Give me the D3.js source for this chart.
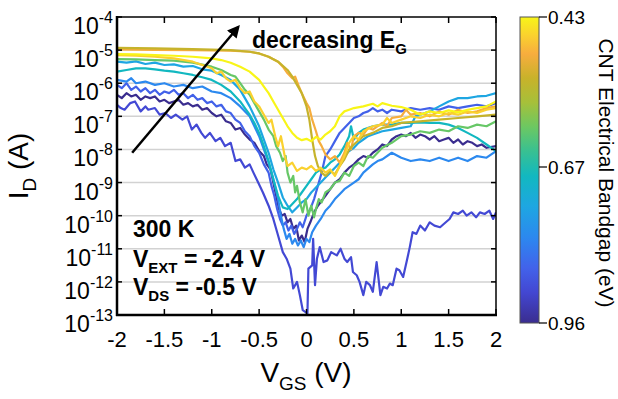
<!DOCTYPE html>
<html>
<head>
<meta charset="utf-8">
<script src="https://cdn.jsdelivr.net/npm/d3@7"></script>
<style>
  body { margin: 0; background: #fff; }
  svg { font-family: "Liberation Sans", Arial, Helvetica, sans-serif; }
</style>
</head>
<body>
<svg id="chart" width="618" height="399"></svg>
<script>
// ---- data (V_GS in volts, log10 of I_D in amps) ----
const xTicks = [-2, -1.5, -1, -0.5, 0, 0.5, 1, 1.5, 2];
const yExponents = [-4, -5, -6, -7, -8, -9, -10, -11, -12, -13];
const barTicks = [0.43, 0.67, 0.96];

// colour map stops (bandgap eV -> colour)
const gapStops = [0.43, 0.459, 0.489, 0.528, 0.567, 0.606, 0.645, 0.687, 0.744, 0.801, 0.858, 0.903, 0.96];
const gapColors = ['#f8f518', '#fad22e', '#f7ad3e', '#c8b22a', '#a6c03a', '#6cc862', '#38c092', '#12b8c0',
                   '#1ea6e2', '#2c88ef', '#4262ea', '#4347d2', '#3a2d8f'];

const yellowPts = [[-2,-5.12],[-1.8,-5.13],[-1.6,-5.15],[-1.4,-5.17],[-1.2,-5.2],[-1.0,-5.25],[-0.9,-5.3],[-0.8,-5.38],[-0.7,-5.5],[-0.6,-5.65],[-0.5,-5.9],[-0.45,-6.1],[-0.4,-6.3],[-0.35,-6.55],[-0.3,-6.8],[-0.25,-7.05],[-0.2,-7.3],[-0.15,-7.5],[-0.1,-7.65],[-0.05,-7.72],[0,-7.68],[0.05,-7.75],[0.1,-7.62],[0.15,-7.7],[0.2,-7.55],[0.25,-7.45],[0.3,-7.3],[0.35,-7.0],[0.4,-6.85],[0.45,-6.8],[0.5,-6.75],[0.6,-6.7],[0.7,-6.62],[0.75,-6.7],[0.8,-6.6],[0.9,-6.68],[1.0,-6.72],[1.1,-6.8],[1.2,-6.95],[1.3,-6.85],[1.4,-6.9],[1.5,-6.82],[1.6,-6.88],[1.7,-6.8],[1.8,-6.75],[1.9,-6.7],[2.0,-6.55]];
const goldPts = [[-2,-5.15],[-1.8,-5.17],[-1.6,-5.2],[-1.4,-5.25],[-1.2,-5.35],[-1.1,-5.45],[-1.0,-5.55],[-0.95,-5.7],[-0.9,-5.65],[-0.85,-5.85],[-0.8,-5.95],[-0.75,-5.9],[-0.7,-6.15],[-0.65,-6.3],[-0.6,-6.25],[-0.55,-6.55],[-0.5,-6.7],[-0.45,-6.95],[-0.4,-7.2],[-0.37,-7.1],[-0.33,-7.6],[-0.3,-7.9],[-0.27,-7.6],[-0.23,-8.2],[-0.2,-8.5],[-0.15,-8.4],[-0.1,-8.65],[-0.05,-8.55],[0,-8.6],[0.05,-8.5],[0.1,-8.65],[0.15,-8.55],[0.2,-8.7],[0.25,-8.6],[0.3,-8.8],[0.35,-8.5],[0.4,-8.2],[0.45,-7.8],[0.5,-7.6],[0.55,-7.7],[0.6,-7.45],[0.7,-7.3],[0.8,-7.25],[0.85,-7.05],[0.9,-7.2],[1.0,-7.1],[1.1,-7.0],[1.2,-7.05],[1.3,-6.95],[1.4,-7.0],[1.5,-6.9],[1.6,-6.95],[1.7,-6.85],[1.8,-6.9],[1.9,-6.8],[2.0,-6.75]];
const orangePts = [[-2,-4.98],[-1.6,-4.99],[-1.2,-5.0],[-0.8,-5.02],[-0.6,-5.05],[-0.5,-5.1],[-0.4,-5.2],[-0.3,-5.35],[-0.25,-5.5],[-0.2,-5.7],[-0.15,-5.85],[-0.12,-5.8],[-0.08,-6.1],[-0.05,-6.3],[0,-6.6],[0.03,-6.75],[0.06,-7.1],[0.1,-7.45],[0.13,-7.75],[0.16,-7.9],[0.2,-8.15],[0.25,-8.3],[0.3,-8.2],[0.35,-8.4],[0.4,-8.1],[0.43,-7.8],[0.47,-8.0],[0.5,-7.6],[0.55,-7.5],[0.6,-7.55],[0.65,-7.35],[0.7,-7.4],[0.8,-7.2],[0.85,-7.3],[0.9,-7.05],[1.0,-7.0],[1.05,-6.8],[1.1,-6.95],[1.2,-6.9],[1.3,-7.0],[1.4,-6.85],[1.5,-6.95],[1.6,-6.8],[1.7,-6.9],[1.8,-6.85],[1.9,-6.75],[2.0,-6.7]];
const olivePts = [[-2,-4.93],[-1.6,-4.95],[-1.2,-4.97],[-0.8,-5.0],[-0.6,-5.05],[-0.5,-5.1],[-0.4,-5.2],[-0.3,-5.35],[-0.2,-5.6],[-0.15,-5.8],[-0.1,-6.05],[-0.05,-6.3],[0,-6.7],[0.03,-7.1],[0.06,-7.7],[0.09,-8.2],[0.12,-8.5],[0.16,-8.7],[0.2,-8.8],[0.25,-8.65],[0.3,-8.75],[0.35,-8.5],[0.4,-8.3],[0.45,-8.0],[0.5,-7.85],[0.6,-7.6],[0.7,-7.5],[0.8,-7.35],[0.9,-7.3],[1.0,-7.2],[1.2,-7.15],[1.4,-7.1],[1.6,-7.05],[1.8,-7.0],[2.0,-6.95]];
const greenPts = [[-2,-5.27],[-1.8,-5.28],[-1.6,-5.3],[-1.4,-5.32],[-1.2,-5.38],[-1.0,-5.5],[-0.9,-5.6],[-0.8,-5.75],[-0.75,-5.8],[-0.7,-6.0],[-0.65,-6.2],[-0.6,-6.35],[-0.55,-6.6],[-0.5,-6.85],[-0.45,-7.1],[-0.4,-7.4],[-0.35,-7.6],[-0.32,-7.9],[-0.28,-8.1],[-0.25,-8.35],[-0.22,-8.2],[-0.2,-8.7],[-0.17,-9.0],[-0.14,-8.8],[-0.12,-9.3],[-0.1,-9.1],[-0.07,-9.6],[-0.04,-9.9],[-0.01,-9.5],[0.02,-10.0],[0.05,-9.7],[0.08,-10.05],[0.1,-9.8],[0.13,-9.5],[0.16,-9.6],[0.2,-9.3],[0.25,-9.2],[0.3,-9.0],[0.35,-8.95],[0.4,-8.7],[0.45,-8.8],[0.5,-8.5],[0.55,-8.4],[0.6,-8.5],[0.65,-8.2],[0.7,-8.25],[0.8,-7.95],[0.9,-7.8],[1.0,-7.6],[1.1,-7.55],[1.2,-7.45],[1.3,-7.5],[1.4,-7.4],[1.5,-7.45],[1.6,-7.3],[1.7,-7.35],[1.8,-7.25],[1.9,-7.3],[2.0,-7.15]];
const tealPts = [[-2,-5.65],[-1.9,-5.6],[-1.8,-5.55],[-1.7,-5.55],[-1.6,-5.58],[-1.5,-5.62],[-1.4,-5.65],[-1.3,-5.7],[-1.2,-5.75],[-1.1,-5.82],[-1.0,-5.9],[-0.9,-6.05],[-0.8,-6.25],[-0.7,-6.55],[-0.65,-6.75],[-0.6,-6.95],[-0.55,-7.2],[-0.5,-7.5],[-0.45,-7.9],[-0.4,-8.35],[-0.35,-8.9],[-0.3,-9.4],[-0.25,-9.75],[-0.2,-9.8],[-0.15,-9.65],[-0.1,-9.5],[-0.05,-9.3],[0,-9.1],[0.05,-8.9],[0.1,-8.7],[0.15,-8.6],[0.2,-8.55],[0.25,-8.4],[0.3,-8.3],[0.35,-8.15],[0.4,-7.9],[0.45,-7.6],[0.47,-7.3],[0.5,-7.7],[0.55,-7.5],[0.6,-7.4],[0.7,-7.3],[0.8,-7.25],[0.9,-7.25],[1.0,-7.2],[1.1,-7.2],[1.2,-7.18],[1.3,-7.2],[1.4,-7.2],[1.5,-7.25],[1.6,-7.35],[1.7,-7.5],[1.8,-7.65],[1.9,-7.85],[2.0,-8.05]];
const skyPts = [[-2,-5.35],[-1.9,-5.38],[-1.8,-5.34],[-1.7,-5.42],[-1.6,-5.38],[-1.5,-5.45],[-1.4,-5.43],[-1.3,-5.5],[-1.2,-5.48],[-1.1,-5.58],[-1.0,-5.62],[-0.9,-5.75],[-0.8,-5.9],[-0.75,-6.05],[-0.7,-6.2],[-0.65,-6.45],[-0.6,-6.7],[-0.55,-7.0],[-0.5,-7.3],[-0.45,-7.7],[-0.4,-8.1],[-0.35,-8.6],[-0.3,-9.0],[-0.25,-9.45],[-0.2,-9.7],[-0.15,-9.9],[-0.1,-9.75],[-0.05,-9.6],[0,-9.5],[0.05,-9.3],[0.1,-9.15],[0.15,-9.0],[0.2,-8.85],[0.25,-8.7],[0.3,-8.55],[0.35,-8.4],[0.4,-8.2],[0.45,-8.05],[0.5,-7.95],[0.55,-7.8],[0.6,-7.7],[0.65,-7.6],[0.7,-7.55],[0.8,-7.45],[0.9,-7.4],[1.0,-7.35],[1.1,-7.3],[1.15,-7.0],[1.2,-6.95],[1.3,-6.85],[1.4,-6.7],[1.5,-6.55],[1.6,-6.45],[1.7,-6.45],[1.8,-6.4],[1.9,-6.38],[2.0,-6.3]];
const bluePts = [[-2,-5.9],[-1.9,-5.95],[-1.85,-5.85],[-1.8,-6.0],[-1.7,-5.95],[-1.6,-6.05],[-1.5,-6.0],[-1.4,-6.1],[-1.3,-6.05],[-1.2,-6.15],[-1.1,-6.1],[-1.0,-6.25],[-0.9,-6.3],[-0.8,-6.45],[-0.7,-6.7],[-0.6,-7.0],[-0.55,-7.3],[-0.5,-7.6],[-0.45,-8.0],[-0.4,-8.4],[-0.35,-8.9],[-0.3,-9.5],[-0.27,-10.0],[-0.24,-10.4],[-0.21,-10.7],[-0.18,-10.55],[-0.15,-10.85],[-0.12,-10.7],[-0.09,-10.9],[-0.06,-10.75],[-0.03,-10.95],[0,-10.7],[0.03,-10.8],[0.06,-10.5],[0.1,-10.3],[0.15,-10.1],[0.2,-9.85],[0.25,-9.7],[0.3,-9.5],[0.35,-9.35],[0.4,-9.2],[0.45,-9.1],[0.5,-9.0],[0.55,-8.9],[0.6,-8.7],[0.7,-8.45],[0.75,-8.35],[0.8,-8.3],[0.9,-8.1],[1.0,-8.25],[1.1,-8.35],[1.2,-8.3],[1.3,-8.35],[1.4,-8.25],[1.5,-8.35],[1.6,-8.25],[1.7,-8.35],[1.8,-8.2],[1.9,-8.25],[2.0,-8.05]];
const violetPts = [[-2,-6.05],[-1.95,-6.15],[-1.9,-6.0],[-1.85,-6.2],[-1.8,-6.1],[-1.75,-6.25],[-1.7,-6.15],[-1.65,-6.3],[-1.6,-6.2],[-1.55,-6.35],[-1.5,-6.25],[-1.45,-6.3],[-1.4,-6.2],[-1.35,-6.35],[-1.3,-6.3],[-1.25,-6.45],[-1.2,-6.35],[-1.15,-6.5],[-1.1,-6.45],[-1.05,-6.6],[-1.0,-6.55],[-0.95,-6.7],[-0.9,-6.65],[-0.85,-6.85],[-0.8,-6.9],[-0.75,-7.1],[-0.7,-7.2],[-0.65,-7.45],[-0.6,-7.6],[-0.55,-7.9],[-0.5,-8.1],[-0.45,-8.45],[-0.4,-8.7],[-0.37,-9.1],[-0.34,-9.4],[-0.31,-9.8],[-0.28,-10.1],[-0.25,-10.3],[-0.22,-10.2],[-0.19,-10.45],[-0.16,-10.3],[-0.13,-10.55],[-0.1,-10.4],[-0.07,-10.2],[-0.04,-10.35],[0,-10.0],[0.04,-9.8],[0.08,-9.5],[0.12,-9.1],[0.16,-8.7],[0.2,-8.2],[0.25,-8.0],[0.3,-7.75],[0.35,-7.5],[0.4,-7.35],[0.45,-7.2],[0.5,-7.05],[0.55,-7.0],[0.6,-6.9],[0.65,-6.85],[0.7,-6.75],[0.75,-6.85],[0.8,-6.8],[0.85,-6.9],[0.9,-6.8],[1.0,-6.85],[1.1,-6.75],[1.2,-6.8],[1.3,-6.75],[1.4,-6.8],[1.5,-6.7],[1.6,-6.75],[1.7,-6.7],[1.8,-6.65],[1.9,-6.7],[2.0,-6.6]];
const lowPts = [[-2,-6.65],[-1.96,-6.75],[-1.92,-6.8],[-1.86,-6.6],[-1.81,-6.55],[-1.75,-6.85],[-1.7,-6.7],[-1.67,-6.8],[-1.6,-6.75],[-1.55,-6.95],[-1.49,-6.9],[-1.43,-7.05],[-1.38,-6.95],[-1.31,-7.1],[-1.26,-7.0],[-1.21,-7.4],[-1.16,-7.25],[-1.11,-7.5],[-1.07,-7.65],[-1.02,-7.5],[-0.96,-7.75],[-0.91,-7.65],[-0.86,-7.9],[-0.8,-7.8],[-0.75,-8.35],[-0.7,-8.3],[-0.65,-8.55],[-0.6,-8.45],[-0.56,-8.7],[-0.51,-9.0],[-0.46,-9.3],[-0.4,-9.7],[-0.35,-10.1],[-0.3,-10.6],[-0.25,-11.1],[-0.21,-11.3],[-0.17,-11.6],[-0.14,-12.2],[-0.1,-12.0],[-0.07,-12.4],[-0.04,-12.85],[0.01,-12.95],[0.02,-11.6],[0.06,-11.5],[0.07,-10.7],[0.09,-12.1],[0.11,-11.3],[0.14,-10.95],[0.18,-11.4],[0.22,-11.35],[0.26,-11.1],[0.32,-11.2],[0.36,-11.0],[0.4,-11.3],[0.43,-11.4],[0.47,-11.25],[0.49,-11.7],[0.53,-11.8],[0.56,-12.0],[0.6,-12.4],[0.63,-12.0],[0.67,-12.1],[0.7,-12.3],[0.74,-11.4],[0.78,-12.4],[0.81,-12.15],[0.85,-12.2],[0.88,-12.05],[0.91,-12.1],[0.95,-11.6],[0.98,-11.65],[1.02,-11.85],[1.06,-11.35],[1.09,-10.95],[1.12,-10.5],[1.16,-10.55],[1.2,-10.3],[1.25,-10.45],[1.3,-10.2],[1.35,-10.3],[1.41,-10.35],[1.47,-10.2],[1.51,-10.1],[1.55,-9.9],[1.6,-9.95],[1.65,-9.85],[1.69,-10.0],[1.74,-9.9],[1.79,-10.05],[1.83,-9.9],[1.88,-9.95],[1.93,-9.85],[1.97,-10.1],[2.0,-9.9]];
const indigoPts = [[-2,-6.35],[-1.95,-6.45],[-1.9,-6.3],[-1.85,-6.4],[-1.8,-6.35],[-1.75,-6.5],[-1.7,-6.4],[-1.65,-6.45],[-1.6,-6.4],[-1.55,-6.55],[-1.5,-6.5],[-1.45,-6.6],[-1.4,-6.55],[-1.35,-6.5],[-1.3,-6.65],[-1.25,-6.6],[-1.2,-6.7],[-1.15,-6.65],[-1.1,-6.8],[-1.05,-6.75],[-1.0,-6.9],[-0.95,-7.0],[-0.9,-6.95],[-0.85,-7.15],[-0.8,-7.2],[-0.75,-7.4],[-0.7,-7.35],[-0.65,-7.55],[-0.6,-7.7],[-0.55,-7.8],[-0.5,-8.05],[-0.45,-8.2],[-0.42,-8.45],[-0.38,-8.6],[-0.35,-9.0],[-0.32,-9.4],[-0.29,-9.8],[-0.26,-10.0],[-0.23,-9.95],[-0.2,-10.2],[-0.17,-10.1],[-0.14,-10.4],[-0.11,-10.3],[-0.08,-10.75],[-0.05,-10.6],[-0.02,-10.8],[0.01,-10.4],[0.04,-10.2],[0.08,-9.9],[0.12,-9.7],[0.16,-9.55],[0.2,-9.4],[0.25,-9.2],[0.3,-9.0],[0.35,-8.9],[0.4,-8.7],[0.45,-8.55],[0.5,-8.45],[0.55,-8.3],[0.6,-8.2],[0.65,-8.25],[0.7,-8.1],[0.75,-8.0],[0.8,-7.85],[0.85,-7.9],[0.9,-7.7],[0.95,-7.6],[1.0,-7.55],[1.05,-7.6],[1.1,-7.5],[1.15,-7.65],[1.2,-7.55],[1.25,-7.6],[1.3,-7.7],[1.35,-7.6],[1.4,-7.75],[1.45,-7.7],[1.5,-7.65],[1.55,-7.8],[1.6,-7.7],[1.65,-7.85],[1.7,-7.75],[1.75,-7.8],[1.8,-7.9],[1.85,-7.85],[1.9,-7.95],[2.0,-7.9]];

// bandgap of each device, drawn back to front
const curveGaps = [0.96, 0.90, 0.86, 0.80, 0.744, 0.687, 0.61, 0.49, 0.53, 0.46, 0.43];
const curvePts = [indigoPts, lowPts, violetPts, bluePts, skyPts, tealPts, greenPts, orangePts, olivePts, goldPts, yellowPts];

// arrow annotation, in data units [V, log10 I]
const arrowFrom = [-1.84, -8.1];
const arrowTo = [-0.72, -4.3];

// ---- layout ----
const svg = d3.select('#chart');
const plot = { left: 117, right: 496, top: 17, bottom: 315 };
const bar = { x: 520, w: 19, top: 17, bottom: 323 };

const x = d3.scaleLinear().domain([-2, 2]).range([plot.left, plot.right]);
const y = d3.scaleLog().domain([1e-13, 1e-4]).range([plot.bottom, plot.top]);
const color = d3.scaleLinear().domain(gapStops).range(gapColors).interpolate(d3.interpolateRgb);
const barY = d3.scaleLinear().domain(barTicks).range([bar.top, 167, bar.bottom]);

const defs = svg.append('defs');
defs.append('clipPath').attr('id', 'clip')
  .append('rect')
  .attr('x', plot.left).attr('y', plot.top)
  .attr('width', plot.right - plot.left).attr('height', plot.bottom - plot.top);

// gridlines
svg.append('g')
  .selectAll('line')
  .data(yExponents.filter(e => e > -13 && e < -4))
  .join('line')
  .attr('x1', plot.left).attr('x2', plot.right)
  .attr('y1', e => y(Math.pow(10, e))).attr('y2', e => y(Math.pow(10, e)))
  .attr('stroke', '#d2d2d2').attr('stroke-width', 1.5);

// curves
const line = d3.line()
  .x(d => x(d[0]))
  .y(d => y(Math.pow(10, d[1])));

svg.append('g').attr('clip-path', 'url(#clip)')
  .selectAll('path')
  .data(curvePts)
  .join('path')
  .attr('d', line)
  .attr('fill', 'none')
  .attr('stroke', (d, i) => color(curveGaps[i]))
  .attr('stroke-width', 2.2)
  .attr('stroke-linejoin', 'round');

// frame and ticks
const frame = svg.append('g');
frame.append('line').attr('x1', plot.left).attr('x2', plot.right).attr('y1', plot.top).attr('y2', plot.top)
  .attr('stroke', '#000').attr('stroke-width', 1.5);
frame.append('line').attr('x1', plot.right).attr('x2', plot.right).attr('y1', plot.top).attr('y2', plot.bottom)
  .attr('stroke', '#000').attr('stroke-width', 1.5);

xTicks.forEach(v => {
  frame.append('line').attr('x1', x(v)).attr('x2', x(v)).attr('y1', plot.bottom).attr('y2', plot.bottom - 6)
    .attr('stroke', '#000').attr('stroke-width', 1.5);
  frame.append('line').attr('x1', x(v)).attr('x2', x(v)).attr('y1', plot.top).attr('y2', plot.top + 6)
    .attr('stroke', '#000').attr('stroke-width', 1.5);
});
yExponents.forEach(e => {
  const yy = y(Math.pow(10, e));
  frame.append('line').attr('x1', plot.left).attr('x2', plot.left + 5).attr('y1', yy).attr('y2', yy)
    .attr('stroke', '#000').attr('stroke-width', 1.5);
  frame.append('line').attr('x1', plot.right).attr('x2', plot.right - 5).attr('y1', yy).attr('y2', yy)
    .attr('stroke', '#000').attr('stroke-width', 1.5);
});
frame.append('line').attr('x1', plot.left).attr('x2', plot.left).attr('y1', plot.top - 1).attr('y2', plot.bottom + 1)
  .attr('stroke', '#000').attr('stroke-width', 2.5);
frame.append('line').attr('x1', plot.left - 1).attr('x2', plot.right + 1).attr('y1', plot.bottom).attr('y2', plot.bottom)
  .attr('stroke', '#000').attr('stroke-width', 2.5);

// tick labels (plain hyphen for negatives, as in the figure)
svg.append('g')
  .selectAll('text')
  .data(xTicks)
  .join('text')
  .attr('x', d => x(d)).attr('y', 347)
  .attr('text-anchor', 'middle')
  .attr('font-size', 22)
  .text(d => String(d));

const yLab = svg.append('g')
  .selectAll('text')
  .data(yExponents)
  .join('text')
  .attr('x', 113)
  .attr('y', e => y(Math.pow(10, e)) + 17)
  .attr('text-anchor', 'end')
  .attr('font-size', 23);
yLab.append('tspan').text('10');
yLab.append('tspan').attr('dy', -11).attr('font-size', 16).text(e => String(e));

// axis titles
const xt = svg.append('text').attr('x', 306).attr('y', 382).attr('text-anchor', 'middle').attr('font-size', 28);
xt.append('tspan').text('V');
xt.append('tspan').attr('font-size', 19).attr('dy', 8).text('GS');
xt.append('tspan').attr('dy', -8).text(' (V)');

const yt = svg.append('text').attr('transform', 'translate(28,166) rotate(-90)')
  .attr('text-anchor', 'middle').attr('font-size', 28);
yt.append('tspan').text('I');
yt.append('tspan').attr('font-size', 19).attr('dy', 8).text('D');
yt.append('tspan').attr('dy', -8).text(' (A)');

// annotations
const note = svg.append('g').attr('font-weight', 'bold').attr('font-size', 23).attr('fill', '#000');
note.append('text').attr('x', 133).attr('y', 237).text('300 K');
const n1 = note.append('text').attr('x', 133).attr('y', 267);
n1.append('tspan').text('V');
n1.append('tspan').attr('font-size', 15).attr('dy', 6).text('EXT');
n1.append('tspan').attr('dy', -6).text(' = -2.4 V');
const n2 = note.append('text').attr('x', 133).attr('y', 295);
n2.append('tspan').text('V');
n2.append('tspan').attr('font-size', 15).attr('dy', 6).text('DS');
n2.append('tspan').attr('dy', -6).text(' = -0.5 V');

const dec = note.append('text').attr('x', 252).attr('y', 48);
dec.append('tspan').text('decreasing E');
dec.append('tspan').attr('font-size', 15).attr('dy', 6).text('G');

// arrow
defs.append('marker')
  .attr('id', 'head')
  .attr('viewBox', '0 0 10 10')
  .attr('refX', 8).attr('refY', 5)
  .attr('markerWidth', 5).attr('markerHeight', 5)
  .attr('orient', 'auto')
  .append('path').attr('d', 'M0,0 L10,5 L0,10 z').attr('fill', '#000');

svg.append('line')
  .attr('x1', x(arrowFrom[0])).attr('y1', y(Math.pow(10, arrowFrom[1])))
  .attr('x2', x(arrowTo[0])).attr('y2', y(Math.pow(10, arrowTo[1])))
  .attr('stroke', '#000').attr('stroke-width', 2.5)
  .attr('marker-end', 'url(#head)');

// colour bar
const grad = defs.append('linearGradient').attr('id', 'cbar')
  .attr('x1', 0).attr('y1', 0).attr('x2', 0).attr('y2', 1);
grad.selectAll('stop')
  .data(gapStops)
  .join('stop')
  .attr('offset', g => (barY(g) - bar.top) / (bar.bottom - bar.top))
  .attr('stop-color', g => color(g));

svg.append('rect')
  .attr('x', bar.x).attr('y', bar.top)
  .attr('width', bar.w).attr('height', bar.bottom - bar.top)
  .attr('fill', 'url(#cbar)')
  .attr('stroke', '#555').attr('stroke-width', 1);

const cb = svg.append('g');
cb.selectAll('line')
  .data(barTicks)
  .join('line')
  .attr('x1', bar.x + bar.w).attr('x2', bar.x + bar.w + 8)
  .attr('y1', d => barY(d)).attr('y2', d => barY(d))
  .attr('stroke', '#000').attr('stroke-width', 1.2);
cb.selectAll('text')
  .data(barTicks)
  .join('text')
  .attr('x', bar.x + bar.w + 9)
  .attr('y', d => barY(d))
  .attr('dy', '0.36em')
  .attr('font-size', 19)
  .text(d => d3.format('.2f')(d));

svg.append('text')
  .attr('transform', 'translate(599,173) rotate(90)')
  .attr('text-anchor', 'middle')
  .attr('font-size', 21)
  .text('CNT Electrical Bandgap (eV)');
</script>
</body>
</html>
